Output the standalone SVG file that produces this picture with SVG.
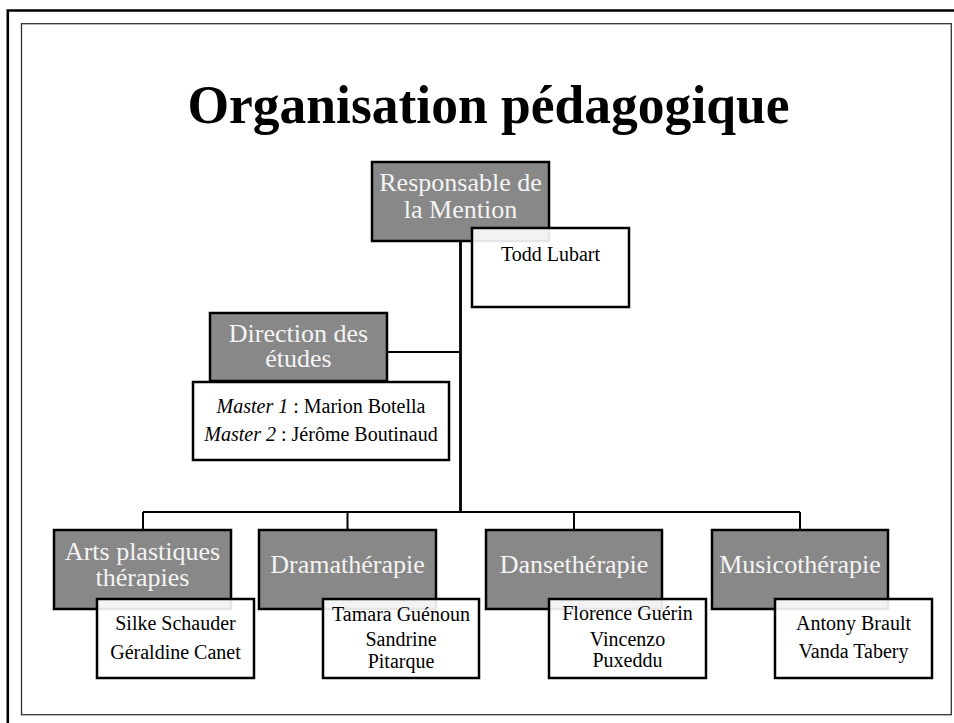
<svg xmlns="http://www.w3.org/2000/svg" width="954" height="723" viewBox="0 0 954 723">
<style>
.head{fill:#888888;stroke:#000;stroke-width:2.5}
.body{fill:#ffffff;fill-opacity:0.9;stroke:#000;stroke-width:2.5}
.ht{font-family:"Liberation Serif",serif;font-size:26px;fill:#f4f4f4;text-anchor:middle}
.bt{font-family:"Liberation Serif",serif;font-size:20px;fill:#000;text-anchor:middle}
.conn{stroke:#000;stroke-width:2;fill:none}
</style>
<rect x="0" y="0" width="954" height="723" fill="#ffffff"/>
<path d="M7.8 723 V10.5 H954" fill="none" stroke="#000" stroke-width="2.6"/>
<rect x="21.5" y="23.7" width="929.8" height="691" fill="none" stroke="#333" stroke-width="1.3"/>
<text x="488.5" y="123" font-family="Liberation Serif,serif" font-weight="bold" font-size="54" text-anchor="middle" textLength="602" lengthAdjust="spacingAndGlyphs" fill="#000">Organisation pédagogique</text>
<g id="connectors">
<line class="conn" x1="460.5" y1="241" x2="460.5" y2="512" style="stroke-width:2.8"/>
<line class="conn" x1="387" y1="352" x2="460.5" y2="352"/>
<line class="conn" x1="143" y1="512" x2="800" y2="512"/>
<line class="conn" x1="143" y1="512" x2="143" y2="530"/>
<line class="conn" x1="347.5" y1="512" x2="347.5" y2="530"/>
<line class="conn" x1="574" y1="512" x2="574" y2="530"/>
<line class="conn" x1="800" y1="512" x2="800" y2="530"/>
</g>
<g id="node-responsable">
<rect class="head" x="372" y="162" width="177" height="79"/>
<text class="ht" x="460.5" y="191">Responsable de</text>
<text class="ht" x="460.5" y="217.5">la Mention</text>
<rect class="body" x="472" y="228" width="157" height="79"/>
<text class="bt" x="550.5" y="261">Todd Lubart</text>
</g>
<g id="node-direction">
<rect class="head" x="210" y="313" width="177" height="68"/>
<text class="ht" x="298.5" y="341.5">Direction des</text>
<text class="ht" x="298.5" y="367">études</text>
<rect class="body" x="193" y="382" width="256" height="78"/>
<text class="bt" x="321" y="413"><tspan font-style="italic">Master 1</tspan> : Marion Botella</text>
<text class="bt" x="321" y="441"><tspan font-style="italic">Master 2</tspan> : Jérôme Boutinaud</text>
</g>
<g id="node-arts">
<rect class="head" x="54" y="530" width="177" height="79"/>
<text class="ht" x="142.5" y="560">Arts plastiques</text>
<text class="ht" x="142.5" y="586">thérapies</text>
<rect class="body" x="97" y="599" width="157" height="79"/>
<text class="bt" x="175.5" y="630">Silke Schauder</text>
<text class="bt" x="175.5" y="659">Géraldine Canet</text>
</g>
<g id="node-drama">
<rect class="head" x="259" y="530" width="177" height="79"/>
<text class="ht" x="347.5" y="573">Dramathérapie</text>
<rect class="body" x="323" y="599" width="156" height="79"/>
<text class="bt" x="401" y="621">Tamara Guénoun</text>
<text class="bt" x="401" y="646">Sandrine</text>
<text class="bt" x="401" y="668">Pitarque</text>
</g>
<g id="node-danse">
<rect class="head" x="486" y="530" width="176" height="79"/>
<text class="ht" x="574" y="573">Dansethérapie</text>
<rect class="body" x="549" y="599" width="157" height="79"/>
<text class="bt" x="627.5" y="620">Florence Guérin</text>
<text class="bt" x="627.5" y="646">Vincenzo</text>
<text class="bt" x="627.5" y="667">Puxeddu</text>
</g>
<g id="node-musico">
<rect class="head" x="712" y="530" width="176" height="79"/>
<text class="ht" x="800" y="573">Musicothérapie</text>
<rect class="body" x="775" y="599" width="157" height="79"/>
<text class="bt" x="853.5" y="630">Antony Brault</text>
<text class="bt" x="853.5" y="658">Vanda Tabery</text>
</g>
</svg>
